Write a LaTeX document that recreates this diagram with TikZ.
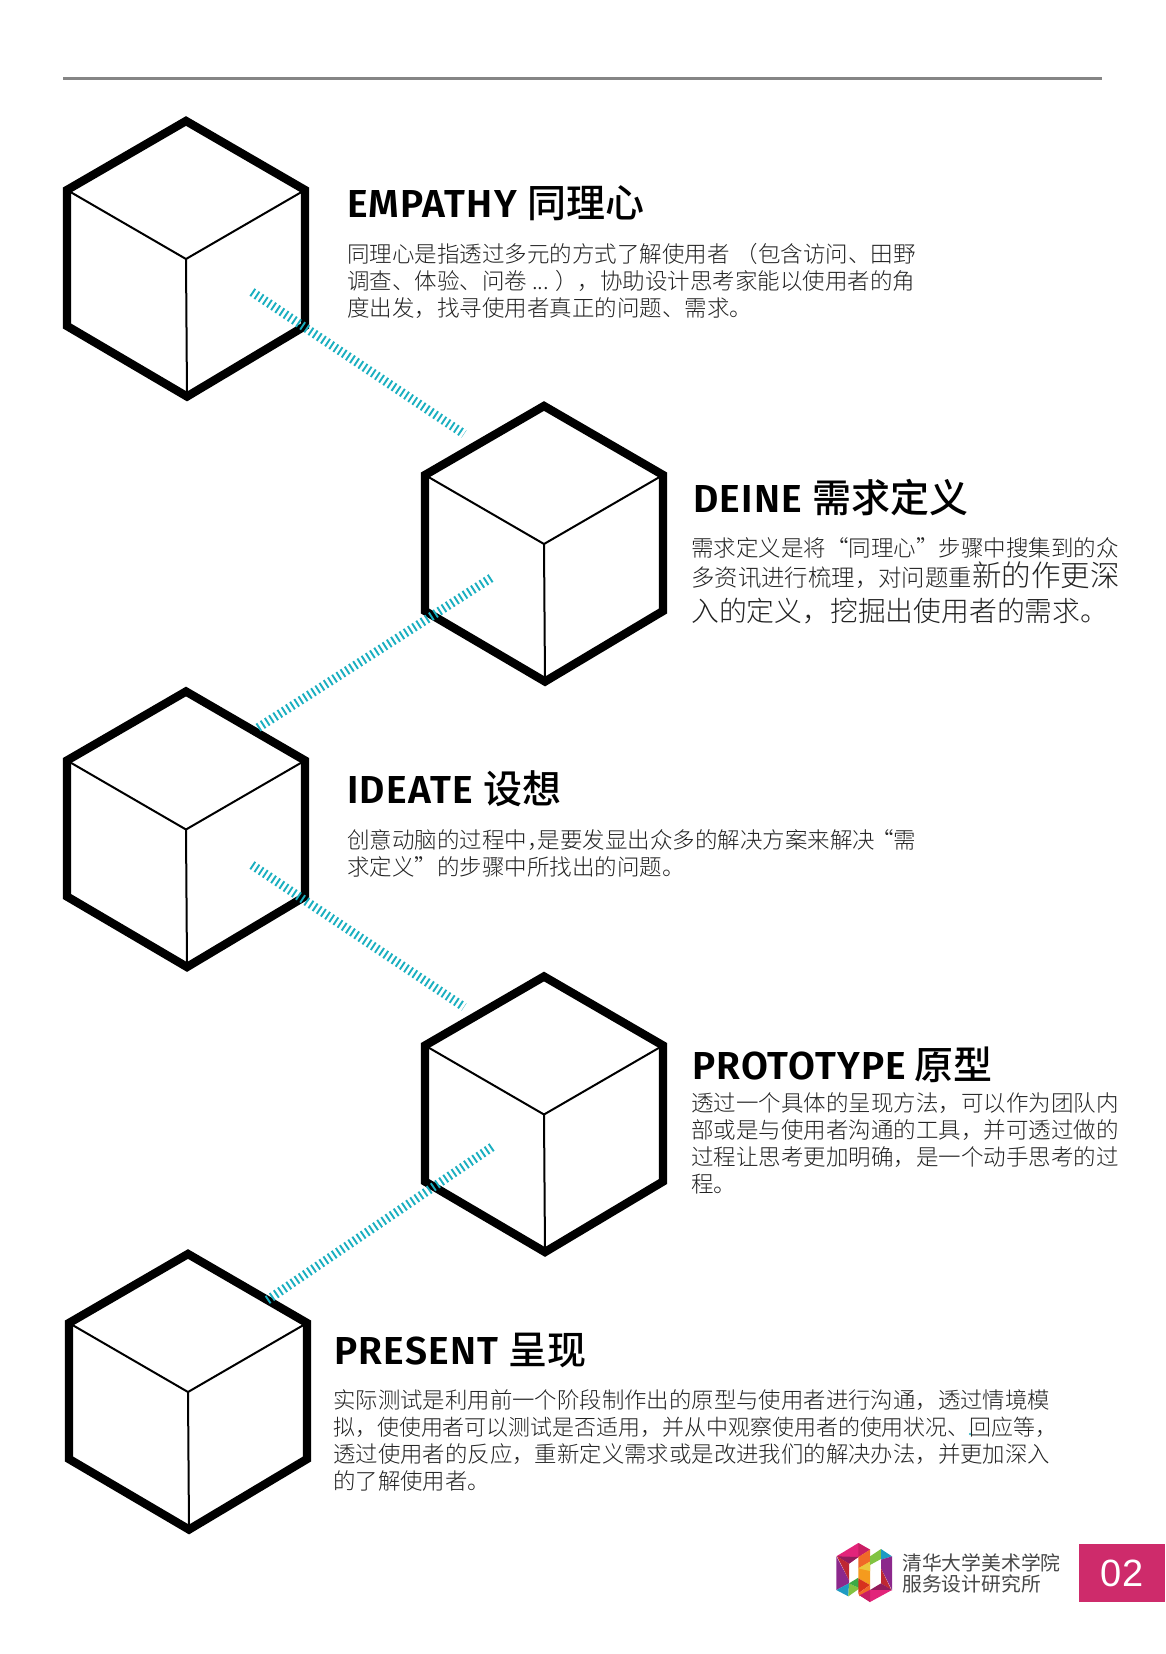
\documentclass[tikz,border=0pt]{standalone}
\usepackage{fontspec}
\setmainfont{Liberation Sans}
\newfontfamily\latintitle{Fira Sans SemiBold}[LetterSpace=3]
\newfontfamily\cjktitle{Noto Sans CJK SC Medium}
\newfontfamily\cjkbody{Noto Sans CJK SC Light}
\newfontfamily\cjklogo{Noto Sans CJK SC}
\definecolor{teal1}{HTML}{1AAFC0}
\definecolor{bodyink}{HTML}{222222}
\definecolor{rose}{HTML}{CE2B6B}
\newcommand{\cubeat}[3]{%
  \begin{scope}[shift={(#2,#3)}]
    \coordinate (#1t) at (186,121);
    \coordinate (#1ur) at (305,190);
    \coordinate (#1lr) at (305,326);
    \coordinate (#1b) at (187,396.5);
    \coordinate (#1ll) at (67,326);
    \coordinate (#1ul) at (67,190);
    \coordinate (#1c) at (186,259);
    \draw[cubeedge] (#1t) -- (#1ur) -- (#1lr) -- (#1b) -- (#1ll) -- (#1ul) -- cycle;
    \draw[cubeinner] (#1ul) -- (#1c) -- (#1ur) (#1c) -- (#1b);
  \end{scope}}
\newcommand{\heading}[4]{\node[titletext] (#1) at (#2,#3) {#4};}
\newcommand{\ttl}[2]{{\latintitle #1} {\cjktitle #2}}
\tikzset{
  x=1pt,y=-1pt,
  cubeedge/.style={line width=8.4pt,line join=miter,miter limit=10},
  cubeinner/.style={line width=2pt,line cap=round},
  hatch/.style={draw=teal1,line width=9pt,dash pattern=on 1.9pt off 3.1pt},
  titletext/.style={anchor=base west,inner sep=0pt,font=\fontsize{39}{42}\selectfont},
  bodytext/.style={anchor=north west,inner sep=0pt,align=left,text=bodyink,
    font=\cjkbody\fontsize{22.5}{27}\selectfont},
}
\begin{document}
\begin{tikzpicture}
\useasboundingbox (0,0) rectangle (1165,1654);
\fill[white] (0,0) rectangle (1165,1654);
\coordinate (ruleL) at (63,78);
\coordinate (ruleR) at (1102,78);
\draw[line width=3pt,color=black!48] (ruleL) -- (ruleR);

\cubeat{a}{0}{0}
\cubeat{b}{358}{285}
\cubeat{c}{0}{570.5}
\cubeat{d}{358}{855.5}
\cubeat{e}{2}{1133}

\coordinate (h1s) at (252,292);  \coordinate (h1e) at (464,434);
\coordinate (h2s) at (491,578);  \coordinate (h2e) at (256,729);
\coordinate (h3s) at (252,865);  \coordinate (h3e) at (464,1007);
\coordinate (h4s) at (492,1147); \coordinate (h4e) at (266,1301);
\draw[hatch] (h1s) -- (h1e);
\draw[hatch] (h2s) -- (h2e);
\draw[hatch] (h3s) -- (h3e);
\draw[hatch] (h4s) -- (h4e);

\heading{t1}{347}{217}{\ttl{EMPATHY}{同理心}}
\heading{t2}{693}{512}{\ttl{DEINE}{需求定义}}
\heading{t3}{347}{803}{\ttl{IDEATE}{设想}}
\heading{t4}{693}{1079}{{\latintitle\kern-1pt PROTOTYPE\kern-3pt} {\cjktitle 原型}}
\heading{t5}{334}{1364}{\ttl{PRESENT}{呈现}}

\node[bodytext] (p1) at (347,243) {同理心是指透过多元的方式了解使用者\kern6pt（包含访问、田野\\调查、体验、问卷 ...\kern6pt），协助设计思考家能以使用者的角\\度出发，找寻使用者真正的问题、需求。};
\node[bodytext] (p2) at (691,537) {需求定义是将“同理心”步骤中搜集到的众\\[3pt]{\fontsize{23.4}{27}\selectfont 多资讯进行梳理，对问题重}{\fontsize{29.5}{27}\selectfont 新的作更深}\\[8pt]{\fontsize{27.8}{27}\selectfont 入的定义，挖掘出使用者的需求。}};
\node[bodytext] (p3) at (347,829) {创意动脑的过程中，\kern-12pt 是要发显出众多的解决方案来解决\kern-4pt“需\\求定义”的步骤中所找出的问题。};
\node[bodytext] (p4) at (691,1092.5) {透过一个具体的呈现方法，可以作为团队内\\部或是与使用者沟通的工具，并可透过做的\\过程让思考更加明确，是一个动手思考的过\\程。};
\node[bodytext,font=\cjkbody\fontsize{22.4}{27}\selectfont] (p5) at (333,1389) {实际测试是利用前一个阶段制作出的原型与使用者进行沟通，透过情境模\\{\fontsize{21.95}{27}\selectfont 拟，使使用者可以测试是否适用，并从中观察使用者的使用状况、回应等，}\\透过使用者的反应，重新定义需求或是改进我们的解决办法，并更加深入\\的了解使用者。};
\fill[teal1] (970,1434) circle (1.1pt);

% logo
\begin{scope}[shift={(825,1535)},x=0.3333pt,y=-0.3333pt]
\fill[color={rgb,255:red,226;green,36;blue,122}] (34,64)--(100,24)--(135,44)--(100,66)--(72,86)--(36,64)--cycle;
\fill[color={rgb,255:red,200;green,30;blue,100}] (100,24)--(135,44)--(100,66)--cycle;
\fill[color={rgb,255:red,146;green,28;blue,92}] (36,64)--(100,66)--(72,86)--cycle;
\fill[color={rgb,255:red,140;green,40;blue,140}] (34,64)--(72,135)--(72,145)--(34,165)--cycle;
\fill[color={rgb,255:red,190;green,40;blue,50}] (36,64)--(72,86)--(72,135)--cycle;
\fill[color={rgb,255:red,30;green,155;blue,195}] (34,165)--(72,145)--(70,184)--cycle;
\fill[color={rgb,255:red,130;green,195;blue,65}] (72,145)--(104,160)--(70,184)--cycle;
\fill[color={rgb,255:red,60;green,170;blue,70}] (72,145)--(100,128)--(104,160)--cycle;
\fill[color={rgb,255:red,240;green,105;blue,40}] (100,66)--(135,44)--(135,80)--(100,100)--cycle;
\fill[color={rgb,255:red,245;green,155;blue,30}] (100,100)--(135,80)--(135,150)--(100,130)--cycle;
\fill[color={rgb,255:red,235;green,200;blue,60}] (100,100)--(135,80)--(135,108)--cycle;
\fill[color={rgb,255:red,215;green,50;blue,30}] (100,130)--(135,150)--(100,175)--cycle;
\fill[color={rgb,255:red,240;green,105;blue,40}] (100,175)--(135,150)--(135,165)--(104,184)--cycle;
\fill[color={rgb,255:red,130;green,195;blue,65}] (135,64)--(168,42)--(168,72)--(135,90)--cycle;
\fill[color={rgb,255:red,30;green,155;blue,195}] (168,42)--(201,64)--(168,74)--cycle;
\fill[color={rgb,255:red,140;green,40;blue,140}] (201,64)--(201,165)--(168,100)--(168,74)--cycle;
\fill[color={rgb,255:red,190;green,40;blue,50}] (199,165)--(168,145)--(168,100)--cycle;
\fill[color={rgb,255:red,146;green,28;blue,92}] (201,165)--(168,145)--(135,165)--cycle;
\fill[color={rgb,255:red,226;green,36;blue,122}] (201,165)--(135,201)--(104,181)--(135,165)--cycle;
\fill[color={rgb,255:red,200;green,30;blue,100}] (104,181)--(135,165)--(135,201)--cycle;
\end{scope}
\node[anchor=west,inner sep=0pt,align=left,text=black!72,font=\cjklogo\fontsize{19.8}{21}\selectfont] (org) at (902,1573) {清华大学美术学院\\服务设计研究所};
\node[fill=rose,minimum width=86pt,minimum height=58pt,inner sep=0pt,text=white,font=\fontsize{38}{40}\selectfont] (page) at (1122,1573) {02};
\end{tikzpicture}
\end{document}
